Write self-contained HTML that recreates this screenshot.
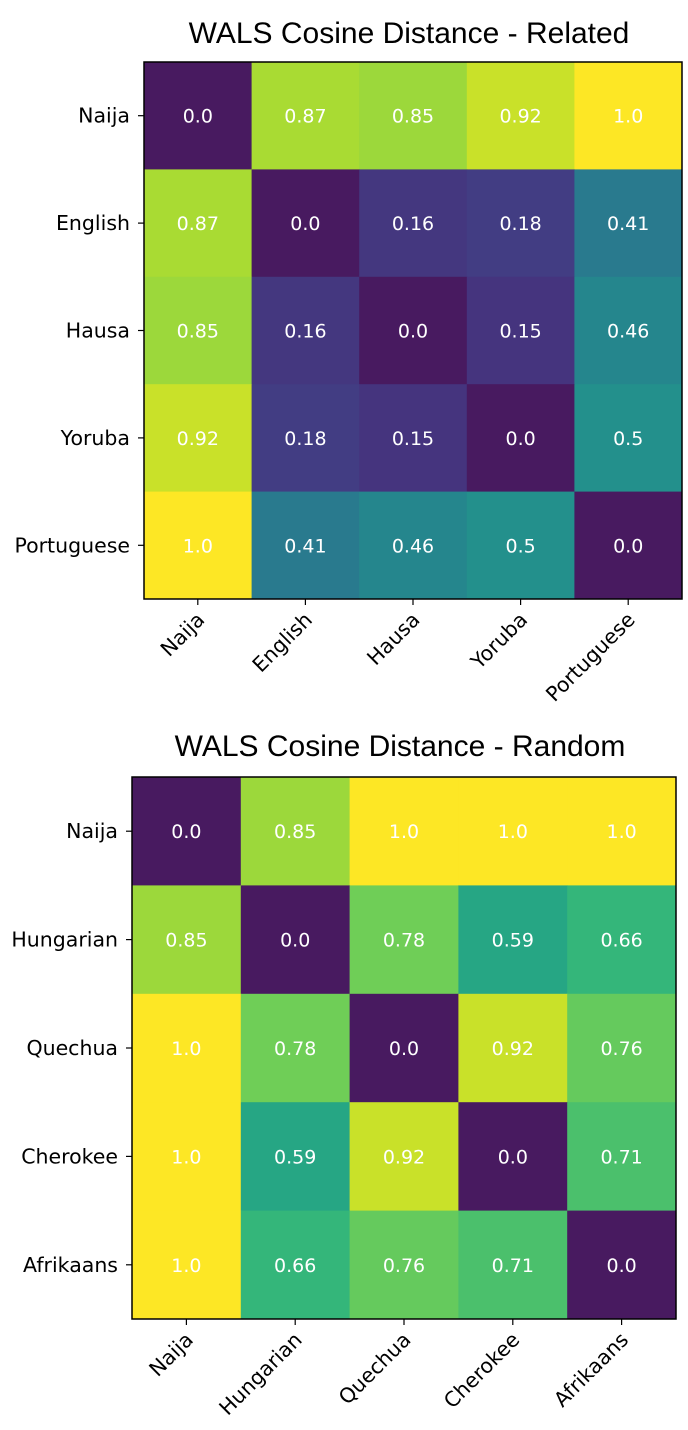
<!DOCTYPE html>
<html><head><meta charset="utf-8"><style>
html,body{margin:0;padding:0;background:#fff;}
svg{display:block;font-family:"DejaVu Sans",sans-serif;}
</style></head><body>
<svg id="chart" width="688" height="1430" viewBox="0 0 688 1430" xmlns="http://www.w3.org/2000/svg"></svg>
<script>
const relatedLabels = ["Naija","English","Hausa","Yoruba","Portuguese"];
const relatedValues = [
 [0.0,0.87,0.85,0.92,1.0],
 [0.87,0.0,0.16,0.18,0.41],
 [0.85,0.16,0.0,0.15,0.46],
 [0.92,0.18,0.15,0.0,0.5],
 [1.0,0.41,0.46,0.5,0.0]];
const randomLabels = ["Naija","Hungarian","Quechua","Cherokee","Afrikaans"];
const randomValues = [
 [0.0,0.85,1.0,1.0,1.0],
 [0.85,0.0,0.78,0.59,0.66],
 [1.0,0.78,0.0,0.92,0.76],
 [1.0,0.59,0.92,0.0,0.71],
 [1.0,0.66,0.76,0.71,0.0]];
const relatedTitle = "WALS Cosine Distance - Related";
const randomTitle = "WALS Cosine Distance - Random";

const vir=[[72,26,96],[72,40,120],[62,74,137],[49,104,142],[38,130,142],[31,158,137],[53,183,121],[110,206,88],[181,222,43],[253,231,37]];
function viridis(t){t=Math.max(0,Math.min(1,t));const p=t*(vir.length-1),i=Math.min(Math.floor(p),vir.length-2),f=p-i;
 const c=vir[i].map((v,k)=>Math.round(v+(vir[i+1][k]-v)*f));return `rgb(${c[0]},${c[1]},${c[2]})`;}
const NS="http://www.w3.org/2000/svg";const svg=document.getElementById('chart');
function el(tag,attrs,parent){const e=document.createElementNS(NS,tag);for(const k in attrs)e.setAttribute(k,attrs[k]);(parent||svg).appendChild(e);return e;}
function fmt(v){return Number.isInteger(v)?v.toFixed(1):String(v);}
function draw(labels,values,title,x0,y0,w,h,titleY,prefix){
 const g=el('g',{});
 
 
 const n=labels.length,cw=w/n,ch=h/n;
 const xs=i=>x0+i*cw, ys=j=>y0+j*ch;
 const t=el('text',{x:x0+w/2-4,y:titleY,'text-anchor':'middle','font-size':30,fill:'#000','font-family':'Liberation Sans, sans-serif'},g);t.textContent=title;
 
 
 for(let r=0;r<n;r++)for(let c=0;c<n;c++){
  const v=values[r][c];
  const rc=el('rect',{x:xs(c),y:ys(r),width:cw+0.5,height:ch+0.5,fill:viridis(v)},g);
  
  
  const tx=el('text',{x:xs(c)+cw/2,y:ys(r)+ch/2+7,'text-anchor':'middle','font-size':19,fill:'#fff'},g);tx.textContent=fmt(v);
  
  
 }
 const fr=el('rect',{x:x0,y:y0,width:w,height:h,fill:'none',stroke:'#000','stroke-width':1.5},g);
 
 
 for(let i=0;i<n;i++){
  const cy=ys(i)+ch/2;
  el('line',{x1:x0-6,x2:x0,y1:cy,y2:cy,stroke:'#000','stroke-width':1.2},g);
  const yl=el('text',{x:x0-14,y:cy+7,'text-anchor':'end','font-size':20.5,fill:'#000'},g);yl.textContent=labels[i];
  
  
  const cx=xs(i)+cw/2;
  el('line',{x1:cx,x2:cx,y1:y0+h,y2:y0+h+6,stroke:'#000','stroke-width':1.2},g);
  const xl=el('text',{x:cx+8,y:y0+h+22,'text-anchor':'end','font-size':20.5,fill:'#000',transform:`rotate(-45 ${cx+8} ${y0+h+22})`},g);xl.textContent=labels[i];
  
  
 }
}
draw(relatedLabels,relatedValues,relatedTitle,144,62,538,537,43,'related');
draw(randomLabels,randomValues,randomTitle,132,777,544,542,756,'random');
</script>
</body></html>
